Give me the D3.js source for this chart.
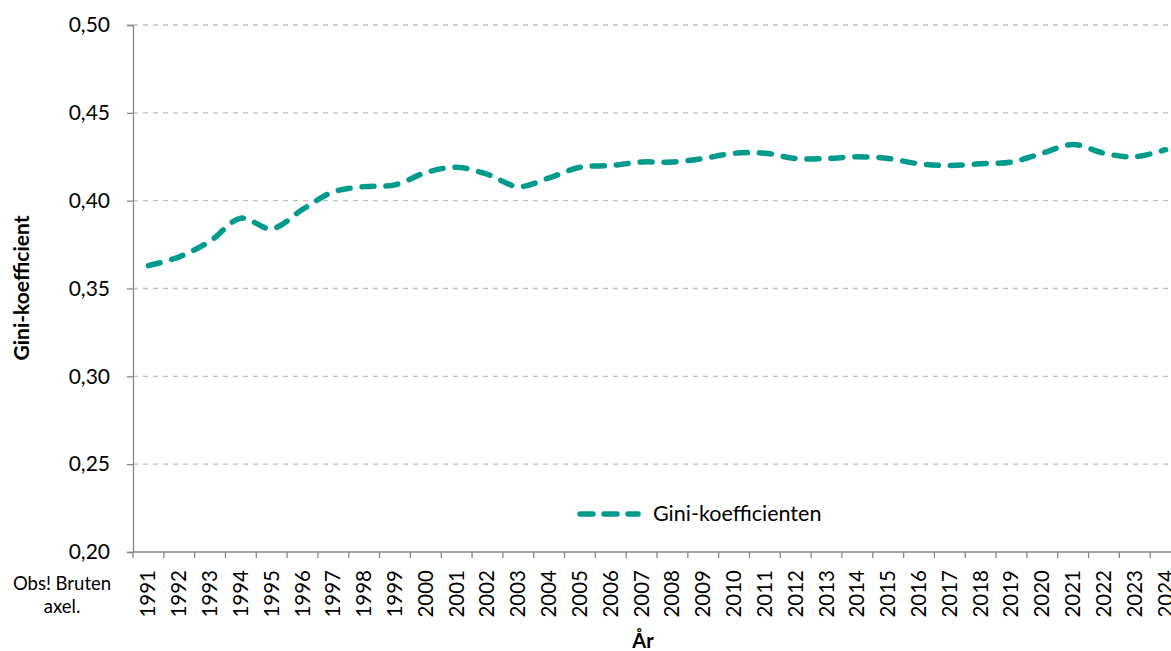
<!DOCTYPE html>
<html>
<head>
<meta charset="utf-8">
<script src="https://cdn.jsdelivr.net/npm/d3@7"></script>
<style>
  body { margin: 0; background: #fff; }
  svg { display: block; font-family: Lato, "Open Sans", sans-serif; }
</style>
</head>
<body>
<script>
var years = [1991,1992,1993,1994,1995,1996,1997,1998,1999,2000,2001,2002,2003,2004,2005,2006,2007,
             2008,2009,2010,2011,2012,2013,2014,2015,2016,2017,2018,2019,2020,2021,2022,2023,2024];
var gini = [0.363,0.368,0.377,0.390,0.384,0.395,0.405,0.408,0.409,0.416,0.419,0.415,0.408,0.413,0.419,0.420,0.422,
            0.422,0.424,0.427,0.427,0.424,0.424,0.425,0.424,0.421,0.420,0.421,0.422,0.427,0.432,0.427,0.425,0.429];
var yTicks = [0.20,0.25,0.30,0.35,0.40,0.45,0.50];

var svgWidth = 1171;
var svgHeight = 651;
var plot = { left: 133, top: 25, right: 1181, bottom: 552 };

var svg = d3.select("body").append("svg")
    .attr("width", svgWidth)
    .attr("height", svgHeight);

var x = d3.scaleBand()
    .domain(years)
    .range([plot.left, plot.right]);

var y = d3.scaleLinear()
    .domain([0.20, 0.50])
    .range([plot.bottom, plot.top]);

var fmt = v => d3.format(".2f")(v).replace(".", ",");

// gridlines
svg.append("g").selectAll("line")
    .data(yTicks.filter(d => d > 0.2))
    .enter().append("line")
    .attr("x1", plot.left).attr("x2", plot.right)
    .attr("y1", d => y(d)).attr("y2", d => y(d))
    .attr("stroke", "#bfbfbf")
    .attr("stroke-width", 1.3)
    .attr("stroke-dasharray", "5,5");

// y axis
var leftAxis = d3.axisLeft(y).tickValues(yTicks).tickFormat(fmt).tickSize(6).tickPadding(17);
var gy = svg.append("g")
    .attr("transform", `translate(${plot.left},0)`)
    .call(leftAxis);
gy.select(".domain").attr("stroke", "#868686").attr("stroke-width", 1.3);
gy.selectAll(".tick line").attr("stroke", "#868686").attr("stroke-width", 1.3);
gy.selectAll("text").attr("font-size", 21).attr("fill", "#000").attr("font-family", "Lato, sans-serif");

// x axis, ticks between categories
var gx = svg.append("g")
    .attr("transform", `translate(0,${plot.bottom})`);
gx.append("line")
    .attr("x1", plot.left).attr("x2", plot.right)
    .attr("stroke", "#868686").attr("stroke-width", 1.3);
gx.selectAll(".tk")
    .data(years)
    .enter().append("line")
    .attr("class", "tk")
    .attr("x1", d => x(d)).attr("x2", d => x(d))
    .attr("y1", 0).attr("y2", 6)
    .attr("stroke", "#868686").attr("stroke-width", 1.3);
gx.selectAll("text")
    .data(years)
    .enter().append("text")
    .attr("transform", d => `translate(${x(d) + x.bandwidth() / 2 + 7},${18}) rotate(-90)`)
    .attr("text-anchor", "end")
    .attr("font-size", 20.5)
    .attr("fill", "#000")
    .text(d => d);

// line
var line = d3.line()
    .x((d, i) => x(years[i]) + x.bandwidth() / 2)
    .y(d => y(d))
    .curve(d3.curveCatmullRom.alpha(0.5));

svg.append("path")
    .datum(gini)
    .attr("d", line)
    .attr("fill", "none")
    .attr("stroke", "#009b8d")
    .attr("stroke-width", 5.5)
    .attr("stroke-linecap", "round")
    .attr("stroke-dasharray", "12,12");

// legend
svg.append("line")
    .attr("x1", 580).attr("x2", 638)
    .attr("y1", 514).attr("y2", 514)
    .attr("stroke", "#009b8d")
    .attr("stroke-width", 5.5)
    .attr("stroke-linecap", "round")
    .attr("stroke-dasharray", "13,11");
svg.append("text")
    .attr("x", 653).attr("y", 521)
    .attr("font-size", 21.5)
    .text("Gini-koefficienten");

// axis titles
svg.append("text")
    .attr("transform", "translate(29,288) rotate(-90)")
    .attr("text-anchor", "middle")
    .attr("font-size", 21)
    .attr("font-weight", "bold")
    .text("Gini-koefficient");
svg.append("text")
    .attr("x", 643).attr("y", 648)
    .attr("text-anchor", "middle")
    .attr("font-size", 20)
    .attr("font-weight", "bold")
    .text("År");

// note
svg.append("text")
    .attr("text-anchor", "middle")
    .attr("font-size", 18.5)
    .selectAll("tspan")
    .data(["Obs! Bruten", "axel."])
    .enter().append("tspan")
    .attr("x", 62)
    .attr("y", (d, i) => 590 + i * 23)
    .text(d => d);
</script>
</body>
</html>
